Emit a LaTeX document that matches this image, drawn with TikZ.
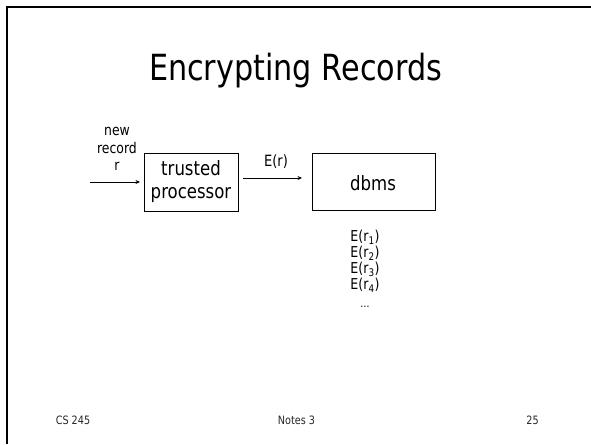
\documentclass[tikz,border=0pt]{standalone}
\usepackage{fontspec}
\setmainfont{DejaVu Sans}[FakeStretch=0.84]
\usetikzlibrary{arrows.meta}
\begin{document}
\begin{tikzpicture}[x=1pt,y=-1pt,
  boxstyle/.style={draw=black,line width=1pt,inner sep=0pt,anchor=north west},
  lbl/.style={inner sep=0pt,align=center},
  conn/.style={draw=black,line width=0.8pt,-{Stealth[length=4.5pt,width=4pt]}},
  foot/.style={inner sep=0pt,font=\fontsize{11.5}{13}\selectfont,text=black!85}]
\useasboundingbox (0,0) rectangle (591,444);
\draw[line width=2.2pt] (7,444) -- (7,7) -- (591,7);
\node[lbl,anchor=base,font=\fontsize{36}{42}\selectfont] (title) at (295.5,81) {Encrypting Records};
% input
\node[lbl,font=\fontsize{14.8}{17.5}\selectfont] (newrec) at (117,149) {new\\record\\r};
\coordinate (start) at (90,182);
% trusted processor
\node[boxstyle,minimum width=94pt,minimum height=58pt] (tp) at (144,153) {};
\node[lbl,font=\fontsize{19.7}{23}\selectfont] (tptext) at (191,181.5) {trusted\\processor};
% dbms
\node[boxstyle,minimum width=123pt,minimum height=57pt] (db) at (312,153) {};
\node[lbl,font=\fontsize{19.7}{23}\selectfont] (dbtext) at (373,183) {dbms};
% arrows
\coordinate (startend) at (140,182);
\draw[conn] (start) -- (startend);
\coordinate (eA) at (243,178);
\coordinate (eB) at (302,178);
\draw[conn] (eA) -- (eB);
\node[lbl,font=\fontsize{15.5}{17}\selectfont] (er) at (276,161.5) {E(r)};
% records list
\node[lbl,font=\fontsize{15}{16}\selectfont] (list) at (365,269) {E(r\textsubscript{1})\\E(r\textsubscript{2})\\E(r\textsubscript{3})\\E(r\textsubscript{4})\\[2pt]\fontsize{11}{14}\selectfont\dots};
% footer
\node[foot] (f1) at (73,420) {CS 245};
\node[foot] (f2) at (296.5,420) {Notes 3};
\node[foot] (f3) at (532.5,420) {25};
\end{tikzpicture}
\end{document}
